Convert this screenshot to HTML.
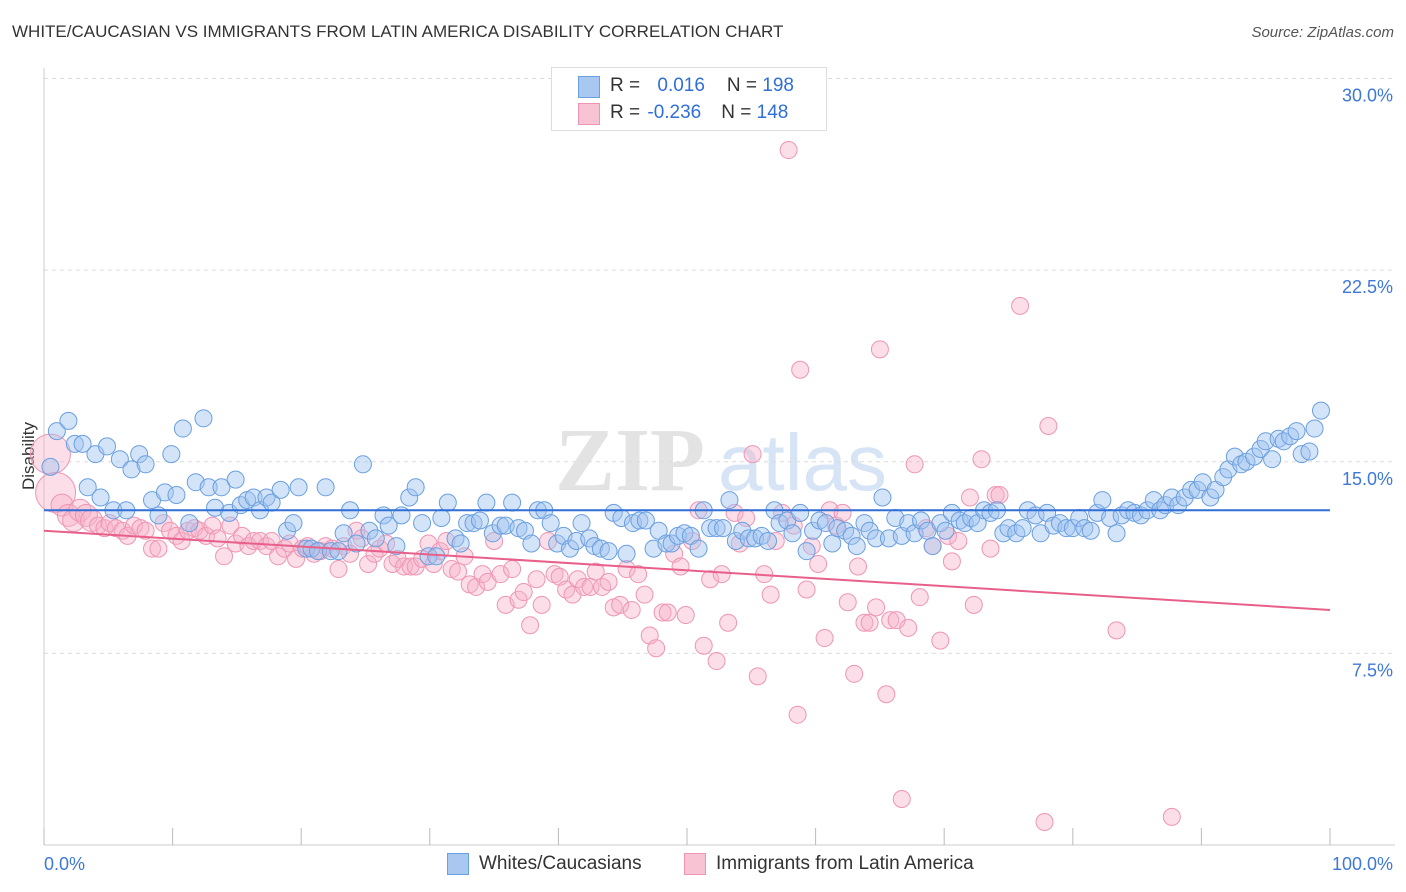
<!DOCTYPE html>
<html><head><meta charset="utf-8">
<style>
body{margin:0;background:#fff;font-family:"Liberation Sans",sans-serif;}
#c{position:relative;width:1406px;height:892px;overflow:hidden;}
.t{position:absolute;white-space:nowrap;}
</style></head>
<body>
<div id="c">
<div class="t" style="left:12px;top:22px;font-size:17px;color:#333;">WHITE/CAUCASIAN VS IMMIGRANTS FROM LATIN AMERICA DISABILITY CORRELATION CHART</div>
<div class="t" style="right:12px;top:24px;font-size:15px;color:#555;font-style:italic;">Source: ZipAtlas.com</div>
<svg id="s" width="1406" height="892" style="position:absolute;left:0;top:0"></svg>
</div>
<script>
const blueX=[0.5,1.0,1.9,2.4,3.0,3.4,4.0,4.4,4.9,5.4,5.9,6.4,6.8,7.4,7.9,8.4,8.9,9.4,9.9,10.3,10.8,11.3,11.8,12.4,12.8,13.3,13.8,14.4,14.9,15.3,15.8,16.3,16.8,17.3,17.7,18.4,18.9,19.4,19.8,20.4,20.8,21.3,21.9,22.3,22.9,23.3,23.8,24.3,24.8,25.3,25.8,26.4,26.8,27.4,27.8,28.4,28.9,29.4,29.9,30.5,30.9,31.4,32.0,32.4,32.9,33.4,33.9,34.4,34.9,35.5,35.9,36.4,36.9,37.4,37.9,38.4,38.9,39.4,39.9,40.4,40.9,41.4,41.8,42.4,42.8,43.3,43.9,44.3,44.9,45.3,45.8,46.3,46.8,47.4,47.8,48.4,48.8,49.3,49.8,50.3,50.9,51.3,51.8,52.3,52.8,53.3,53.8,54.3,54.8,55.3,55.8,56.3,56.8,57.2,57.8,58.2,58.8,59.3,59.8,60.3,60.8,61.3,61.7,62.3,62.8,63.2,63.8,64.2,64.7,65.2,65.7,66.2,66.7,67.2,67.7,68.2,68.7,69.1,69.7,70.1,70.6,71.2,71.6,72.1,72.6,73.1,73.6,74.1,74.6,75.0,75.6,76.1,76.5,77.1,77.5,78.0,78.5,79.0,79.5,80.0,80.5,80.9,81.4,81.9,82.3,82.9,83.4,83.8,84.3,84.8,85.3,85.8,86.3,86.8,87.2,87.7,88.2,88.7,89.2,89.7,90.1,90.7,91.1,91.7,92.1,92.6,93.1,93.5,94.1,94.6,95.0,95.5,96.0,96.4,96.9,97.4,97.8,98.4,98.8,99.3];
const blueY=[14.8,16.2,16.6,15.7,15.7,14.0,15.3,13.6,15.6,13.1,15.1,13.1,14.7,15.3,14.9,13.5,12.9,13.8,15.3,13.7,16.3,12.6,14.2,16.7,14.0,13.2,14.0,13.0,14.3,13.3,13.5,13.6,13.1,13.6,13.4,13.9,12.3,12.6,14.0,11.6,11.6,11.5,14.0,11.5,11.5,12.2,13.1,11.8,14.9,12.3,12.0,12.9,12.5,11.7,12.9,13.6,14.0,12.6,11.3,11.3,12.8,13.4,12.0,11.8,12.6,12.6,12.7,13.4,12.2,12.5,12.5,13.4,12.4,12.3,11.8,13.1,13.1,12.6,11.8,12.1,11.6,11.9,12.6,12.0,11.7,11.6,11.5,13.0,12.8,11.4,12.6,12.7,12.7,11.6,12.3,11.8,11.8,12.1,12.2,12.1,11.6,13.1,12.4,12.4,12.4,13.5,11.9,12.3,12.0,12.0,12.1,11.9,13.1,12.6,12.7,12.2,13.0,11.5,12.3,12.7,12.6,11.8,12.4,12.3,12.1,11.7,12.6,12.3,12.0,13.6,12.0,12.8,12.1,12.6,12.2,12.7,12.3,11.7,12.6,12.3,13.0,12.7,12.6,12.8,12.6,13.1,13.0,13.1,12.2,12.4,12.2,12.4,13.1,12.9,12.2,13.0,12.5,12.6,12.4,12.4,12.8,12.4,12.3,13.0,13.5,12.8,12.2,12.9,13.1,13.0,12.9,13.1,13.5,13.1,13.3,13.6,13.3,13.6,13.9,13.9,14.2,13.6,13.9,14.4,14.7,15.2,14.9,15.0,15.2,15.5,15.8,15.1,15.9,15.8,16.0,16.2,15.3,15.4,16.3,17.0];
const pinkX=[0.5,0.9,1.4,1.9,2.3,2.8,3.3,3.7,4.2,4.7,5.1,5.6,6.1,6.5,7.0,7.5,7.9,8.4,8.9,9.3,9.8,10.3,10.7,11.2,11.7,12.1,12.6,13.1,13.5,14.0,14.5,14.9,15.4,15.9,16.3,16.8,17.3,17.7,18.2,18.7,19.1,19.6,20.1,20.5,21.0,21.5,21.9,22.4,22.9,23.3,23.8,24.3,24.7,25.2,25.7,26.1,26.6,27.1,27.5,28.0,28.5,28.9,29.4,29.9,30.3,30.8,31.3,31.7,32.2,32.7,33.1,33.6,34.1,34.5,35.0,35.5,35.9,36.4,36.9,37.3,37.8,38.3,38.7,39.2,39.7,40.1,40.6,41.1,41.5,42.0,42.5,42.9,43.4,43.9,44.3,44.8,45.3,45.7,46.2,46.7,47.1,47.6,48.1,48.5,49.0,49.5,49.9,50.4,50.9,51.3,51.8,52.3,52.7,53.2,53.7,54.1,54.6,55.1,55.5,56.0,56.5,56.9,57.4,57.9,58.3,58.6,58.8,59.3,59.7,60.2,60.7,61.1,61.6,62.1,62.5,63.0,63.3,63.8,64.2,64.7,65.0,65.5,65.8,66.3,66.7,67.2,67.7,68.1,68.6,69.1,69.7,70.3,70.6,71.1,72.0,72.3,72.9,73.6,74.0,74.3,75.9,77.8,78.1,83.4,87.7];
const pinkY=[15.3,13.8,13.3,12.9,12.7,13.1,12.9,12.7,12.5,12.4,12.6,12.4,12.3,12.1,12.5,12.4,12.3,11.6,11.6,12.6,12.3,12.1,11.9,12.3,12.4,12.3,12.1,12.5,12.0,11.3,12.5,11.8,12.1,11.7,11.9,11.9,11.7,11.9,11.3,11.6,11.8,11.2,11.6,11.7,11.4,11.5,11.7,11.6,10.8,11.7,11.4,12.3,12.0,11.0,11.4,11.6,11.8,11.0,11.2,10.9,10.9,10.9,11.2,11.8,11.0,11.5,11.9,10.8,10.7,11.3,10.2,10.1,10.6,10.3,11.9,10.6,9.4,10.8,9.6,9.9,8.6,10.4,9.4,11.9,10.6,10.5,10.0,9.8,10.4,10.1,10.1,10.7,10.1,10.3,9.3,9.4,10.8,9.2,10.6,9.8,8.2,7.7,9.1,9.1,11.4,10.9,9.0,11.9,13.1,7.8,10.4,7.2,10.6,8.7,13.0,11.8,12.8,15.3,6.6,10.6,9.8,11.9,13.0,27.2,12.5,5.1,18.6,10.0,11.7,11.0,8.1,13.1,12.5,13.0,9.5,6.7,10.9,8.7,8.7,9.3,19.4,5.9,8.8,8.8,1.8,8.5,14.9,9.7,12.4,11.7,8.0,12.1,11.1,11.9,13.6,9.4,15.1,11.6,13.7,13.7,21.1,0.9,16.4,8.4,1.1];
const yTicks=[7.5,15.0,22.5,30.0];
const xTickVals=[0,10,20,30,40,50,60,70,80,90,100];
const blueTrend=[13.1,13.1];
const pinkTrend=[12.3,9.2];

const X0=44,X1=1330,YB=845,YPX=25.55;
const sx=v=>X0+(X1-X0)*v/100;
const sy=v=>YB-v*YPX;
const svg=document.getElementById('s');
const NS='http://www.w3.org/2000/svg';
function mk(tag,attrs){const e=document.createElementNS(NS,tag);for(const k in attrs)e.setAttribute(k,attrs[k]);svg.appendChild(e);return e;}

// watermark
let wm=mk('text',{x:555,y:490,'font-size':90,'font-family':'Liberation Serif, serif',fill:'#e3e3e3','font-weight':'bold'});
wm.textContent='ZIP';


let wm2=mk('text',{x:718,y:490,'font-size':80,'font-family':'Liberation Sans, sans-serif',fill:'#d6e4f5'});
wm2.textContent='atlas';



yTicks.forEach(v=>{
  const g=mk('line',{x1:X0,x2:1395,y1:sy(v),y2:sy(v),stroke:'#dcdcdc','stroke-dasharray':'4,4'});
  
  
  const t=mk('text',{x:1393,y:sy(v)+23,'text-anchor':'end','font-size':18,fill:'#3d78d8','font-family':'Liberation Sans, sans-serif'});
  t.textContent=v.toFixed(1)+'%';
  
  
});
let ax=mk('line',{x1:X0,x2:X0,y1:68,y2:YB,stroke:'#ccc'});


let bx=mk('line',{x1:X0,x2:1395,y1:YB,y2:YB,stroke:'#ccc'});


xTickVals.forEach(v=>{
  const l=mk('line',{x1:sx(v),x2:sx(v),y1:828,y2:YB,stroke:'#bbb'});
  
  
});
[[0,'start',44],[100,'end',1393]].forEach(([v,a,x])=>{
  const t=mk('text',{x:x,y:870,'text-anchor':a,'font-size':18,fill:'#3d78d8','font-family':'Liberation Sans, sans-serif'});
  t.textContent=v.toFixed(1)+'%';
  
  
});
let yt=mk('text',{x:34,y:456,'text-anchor':'middle','font-size':17,fill:'#333',transform:'rotate(-90 34 456)','font-family':'Liberation Sans, sans-serif'});
yt.textContent='Disability';



pinkX.forEach((x,i)=>{
  const r=i<2?20:(i<8?11:8.5);
  const c=mk('circle',{cx:sx(x),cy:sy(pinkY[i]),r:r,fill:'rgba(246,176,200,0.42)',stroke:'#ef95b3','stroke-width':1});
  
  
});
blueX.forEach((x,i)=>{
  const c=mk('circle',{cx:sx(x),cy:sy(blueY[i]),r:8.5,fill:'rgba(160,196,240,0.45)',stroke:'#6a9fe0','stroke-width':1});
  
  
});
let bl=mk('line',{x1:sx(0),x2:sx(100),y1:sy(blueTrend[0]),y2:sy(blueTrend[1]),stroke:'#2f6fd6','stroke-width':2});


let pl=mk('line',{x1:sx(0),x2:sx(100),y1:sy(pinkTrend[0]),y2:sy(pinkTrend[1]),stroke:'#e8608a','stroke-width':2});


</script>
<div class="t" style="left:551px;top:67px;width:274px;height:62px;border:1px solid #ddd;background:#fff;">
  <div style="position:absolute;left:26px;top:8px;width:20px;height:20px;background:#a8c8f2;border:1px solid #6a9fe0;"></div>
  <div style="position:absolute;left:58px;top:7px;font-size:19px;color:#333;">R = <span style="color:#2f6fd6;margin-left:12px">0.016</span><span style="margin-left:22px">N = </span><span style="color:#2f6fd6">198</span></div>
  <div style="position:absolute;left:26px;top:35px;width:20px;height:20px;background:#f8c4d4;border:1px solid #ef95b3;"></div>
  <div style="position:absolute;left:58px;top:34px;font-size:19px;color:#333;">R = <span style="color:#2f6fd6;margin-left:2px">-0.236</span><span style="margin-left:20px">N = </span><span style="color:#2f6fd6">148</span></div>
</div>
<div class="t" style="left:447px;top:853px;width:20px;height:20px;background:#a8c8f2;border:1px solid #6a9fe0;"></div>
<div class="t" style="left:479px;top:853px;font-size:19px;color:#333;">Whites/Caucasians</div>
<div class="t" style="left:684px;top:853px;width:20px;height:20px;background:#f8c4d4;border:1px solid #ef95b3;"></div>
<div class="t" style="left:716px;top:853px;font-size:19px;color:#333;">Immigrants from Latin America</div>
</body></html>
